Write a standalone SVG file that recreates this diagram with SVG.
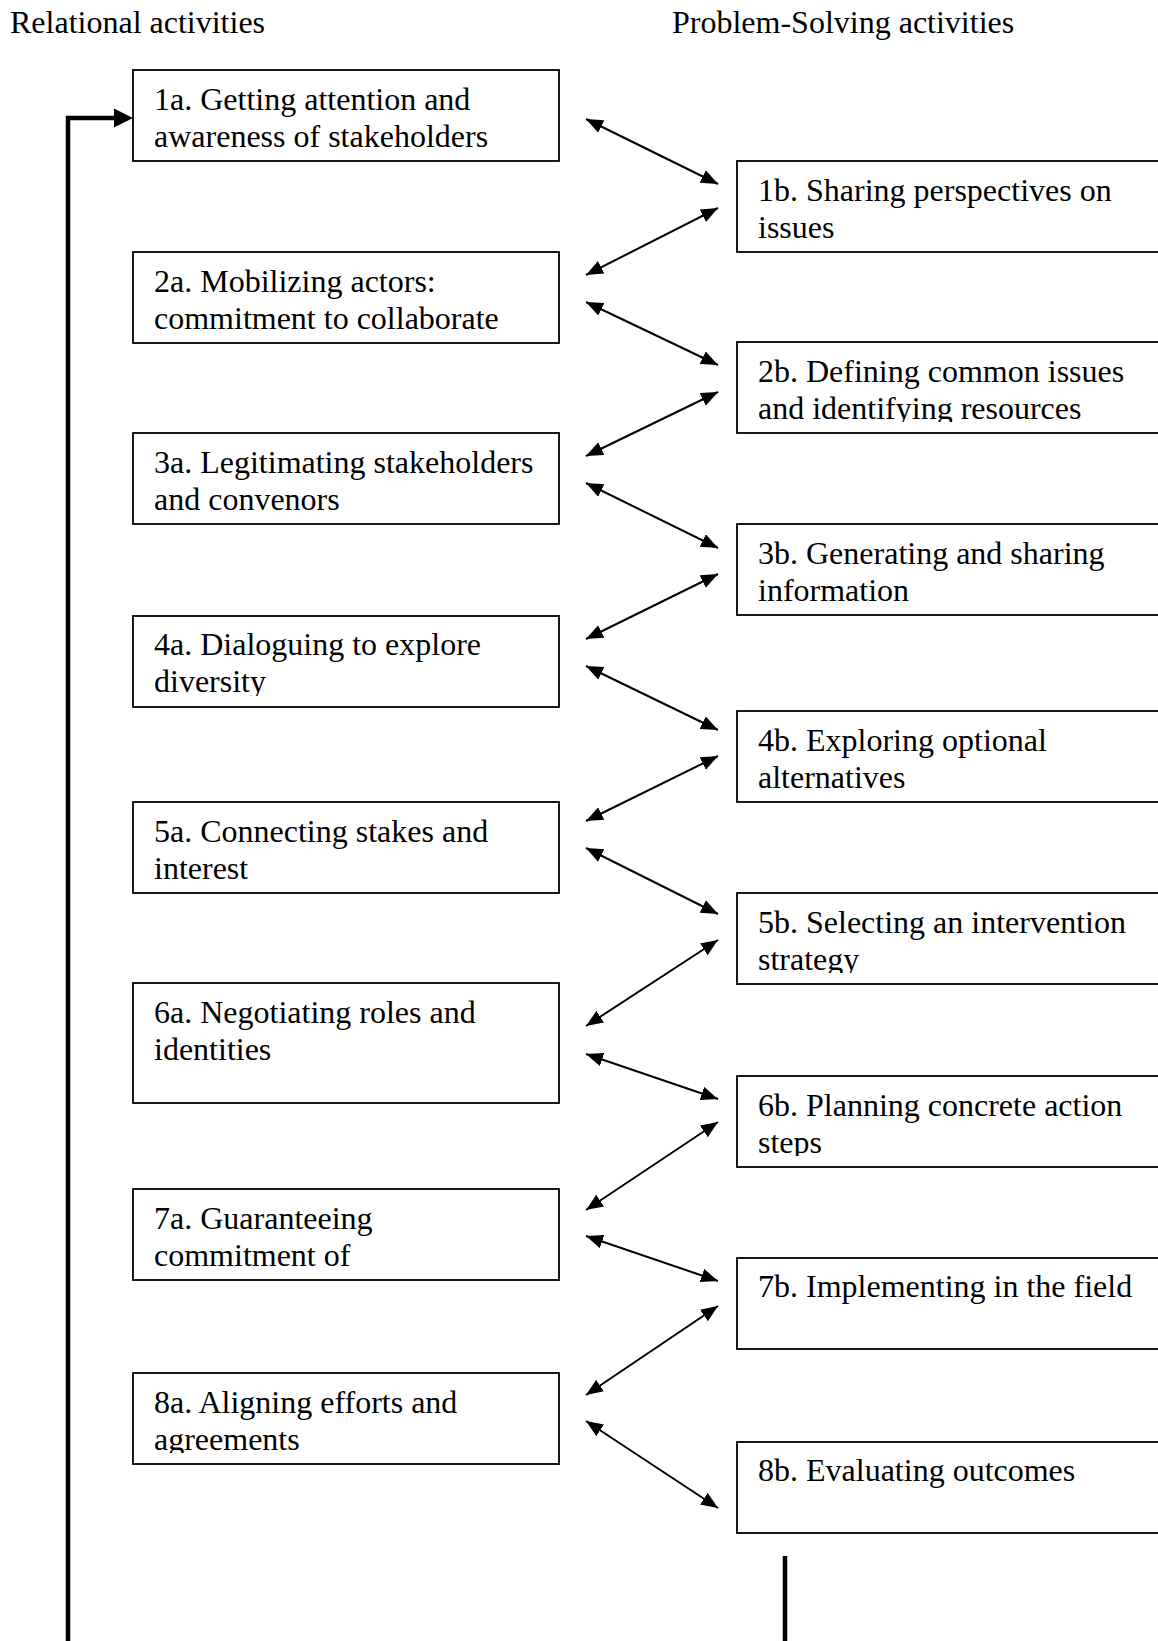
<svg xmlns="http://www.w3.org/2000/svg" width="1158" height="1641" viewBox="0 0 1158 1641">
<style>
  .box { fill: #ffffff; stroke: #000000; stroke-width: 1.8; }
  .t { font-family: "Liberation Serif", "Times New Roman", serif; font-size: 32px; fill: #000000; }
  .h { font-family: "Liberation Serif", "Times New Roman", serif; font-size: 32px; fill: #000000; }
  .con { stroke: #000000; stroke-width: 2; fill: none; marker-start: url(#ah); marker-end: url(#ah); }
  .thick { stroke: #000000; stroke-width: 4.5; fill: none; }
</style>
<defs>
  <marker id="ah" markerUnits="userSpaceOnUse" markerWidth="18" markerHeight="15" refX="17" refY="7" orient="auto-start-reverse" viewBox="0 0 18 15">
    <path d="M0,0 L17,7 L0,14 z" fill="#000000"/>
  </marker>
  <clipPath id="c2b"><rect x="737" y="342" width="430" height="80"/></clipPath>
  <clipPath id="c4a"><rect x="133" y="616" width="426" height="80"/></clipPath>
  <clipPath id="c5b"><rect x="737" y="893" width="430" height="80"/></clipPath>
  <clipPath id="c6b"><rect x="737" y="1076" width="430" height="80"/></clipPath>
  <clipPath id="c8a"><rect x="133" y="1373" width="426" height="80"/></clipPath>
</defs>

<rect x="0" y="0" width="1158" height="1641" fill="#ffffff"/>

<g id="headings">
  <text class="h" x="10" y="33">Relational activities</text>
  <text class="h" x="672" y="33">Problem-Solving activities</text>
</g>

<g id="n1a"><rect class="box" x="133" y="70" width="426" height="91"/>
  <text class="t" x="154" y="110">1a. Getting attention and</text>
  <text class="t" x="154" y="146.5">awareness of stakeholders</text></g>
<g id="n1b"><rect class="box" x="737" y="161" width="460" height="91"/>
  <text class="t" x="758" y="201">1b. Sharing perspectives on</text>
  <text class="t" x="758" y="237.5">issues</text></g>
<g id="n2a"><rect class="box" x="133" y="252" width="426" height="91"/>
  <text class="t" x="154" y="292">2a. Mobilizing actors:</text>
  <text class="t" x="154" y="328.5">commitment to collaborate</text></g>
<g id="n2b"><rect class="box" x="737" y="342" width="460" height="91"/>
  <g clip-path="url(#c2b)">
  <text class="t" x="758" y="382">2b. Defining common issues</text>
  <text class="t" x="758" y="418.5">and identifying resources</text></g></g>
<g id="n3a"><rect class="box" x="133" y="433" width="426" height="91"/>
  <text class="t" x="154" y="473">3a. Legitimating stakeholders</text>
  <text class="t" x="154" y="509.5">and convenors</text></g>
<g id="n3b"><rect class="box" x="737" y="524" width="460" height="91"/>
  <text class="t" x="758" y="564">3b. Generating and sharing</text>
  <text class="t" x="758" y="600.5">information</text></g>
<g id="n4a"><rect class="box" x="133" y="616" width="426" height="91"/>
  <g clip-path="url(#c4a)">
  <text class="t" x="154" y="655">4a. Dialoguing to explore</text>
  <text class="t" x="154" y="691.5">diversity</text></g></g>
<g id="n4b"><rect class="box" x="737" y="711" width="460" height="91"/>
  <text class="t" x="758" y="751">4b. Exploring optional</text>
  <text class="t" x="758" y="787.5">alternatives</text></g>
<g id="n5a"><rect class="box" x="133" y="802" width="426" height="91"/>
  <text class="t" x="154" y="842">5a. Connecting stakes and</text>
  <text class="t" x="154" y="878.5">interest</text></g>
<g id="n5b"><rect class="box" x="737" y="893" width="460" height="91"/>
  <g clip-path="url(#c5b)">
  <text class="t" x="758" y="933">5b. Selecting an intervention</text>
  <text class="t" x="758" y="969.5">strategy</text></g></g>
<g id="n6a"><rect class="box" x="133" y="983" width="426" height="120"/>
  <text class="t" x="154" y="1023">6a. Negotiating roles and</text>
  <text class="t" x="154" y="1059.5">identities</text></g>
<g id="n6b"><rect class="box" x="737" y="1076" width="460" height="91"/>
  <g clip-path="url(#c6b)">
  <text class="t" x="758" y="1116">6b. Planning concrete action</text>
  <text class="t" x="758" y="1152.5">steps</text></g></g>
<g id="n7a"><rect class="box" x="133" y="1189" width="426" height="91"/>
  <text class="t" x="154" y="1229">7a. Guaranteeing</text>
  <text class="t" x="154" y="1265.5">commitment of</text></g>
<g id="n7b"><rect class="box" x="737" y="1258" width="460" height="91"/>
  <text class="t" x="758" y="1297">7b. Implementing in the field</text></g>
<g id="n8a"><rect class="box" x="133" y="1373" width="426" height="91"/>
  <g clip-path="url(#c8a)">
  <text class="t" x="154" y="1413">8a. Aligning efforts and</text>
  <text class="t" x="154" y="1449.5">agreements</text></g></g>
<g id="n8b"><rect class="box" x="737" y="1442" width="460" height="91"/>
  <text class="t" x="758" y="1481">8b. Evaluating outcomes</text></g>

<g id="connectors">
  <line class="con" x1="586" y1="119" x2="718" y2="184"/>
  <line class="con" x1="718" y1="208" x2="586" y2="275"/>
  <line class="con" x1="586" y1="302" x2="718" y2="365"/>
  <line class="con" x1="718" y1="392" x2="586" y2="456"/>
  <line class="con" x1="586" y1="483" x2="718" y2="548"/>
  <line class="con" x1="718" y1="574" x2="586" y2="639"/>
  <line class="con" x1="586" y1="666" x2="718" y2="730"/>
  <line class="con" x1="718" y1="756" x2="586" y2="821"/>
  <line class="con" x1="586" y1="848" x2="718" y2="914"/>
  <line class="con" x1="718" y1="940" x2="586" y2="1026"/>
  <line class="con" x1="586" y1="1054" x2="718" y2="1099"/>
  <line class="con" x1="718" y1="1122" x2="586" y2="1210"/>
  <line class="con" x1="586" y1="1236" x2="718" y2="1281"/>
  <line class="con" x1="718" y1="1306" x2="586" y2="1395"/>
  <line class="con" x1="586" y1="1421" x2="718" y2="1508"/>
  <polyline class="thick" points="68,1645 68,118 116,118"/>
  <polygon points="133,118 114,108.5 114,127.5" fill="#000000"/>
  <line class="thick" x1="785" y1="1556" x2="785" y2="1645"/>
</g>
</svg>
